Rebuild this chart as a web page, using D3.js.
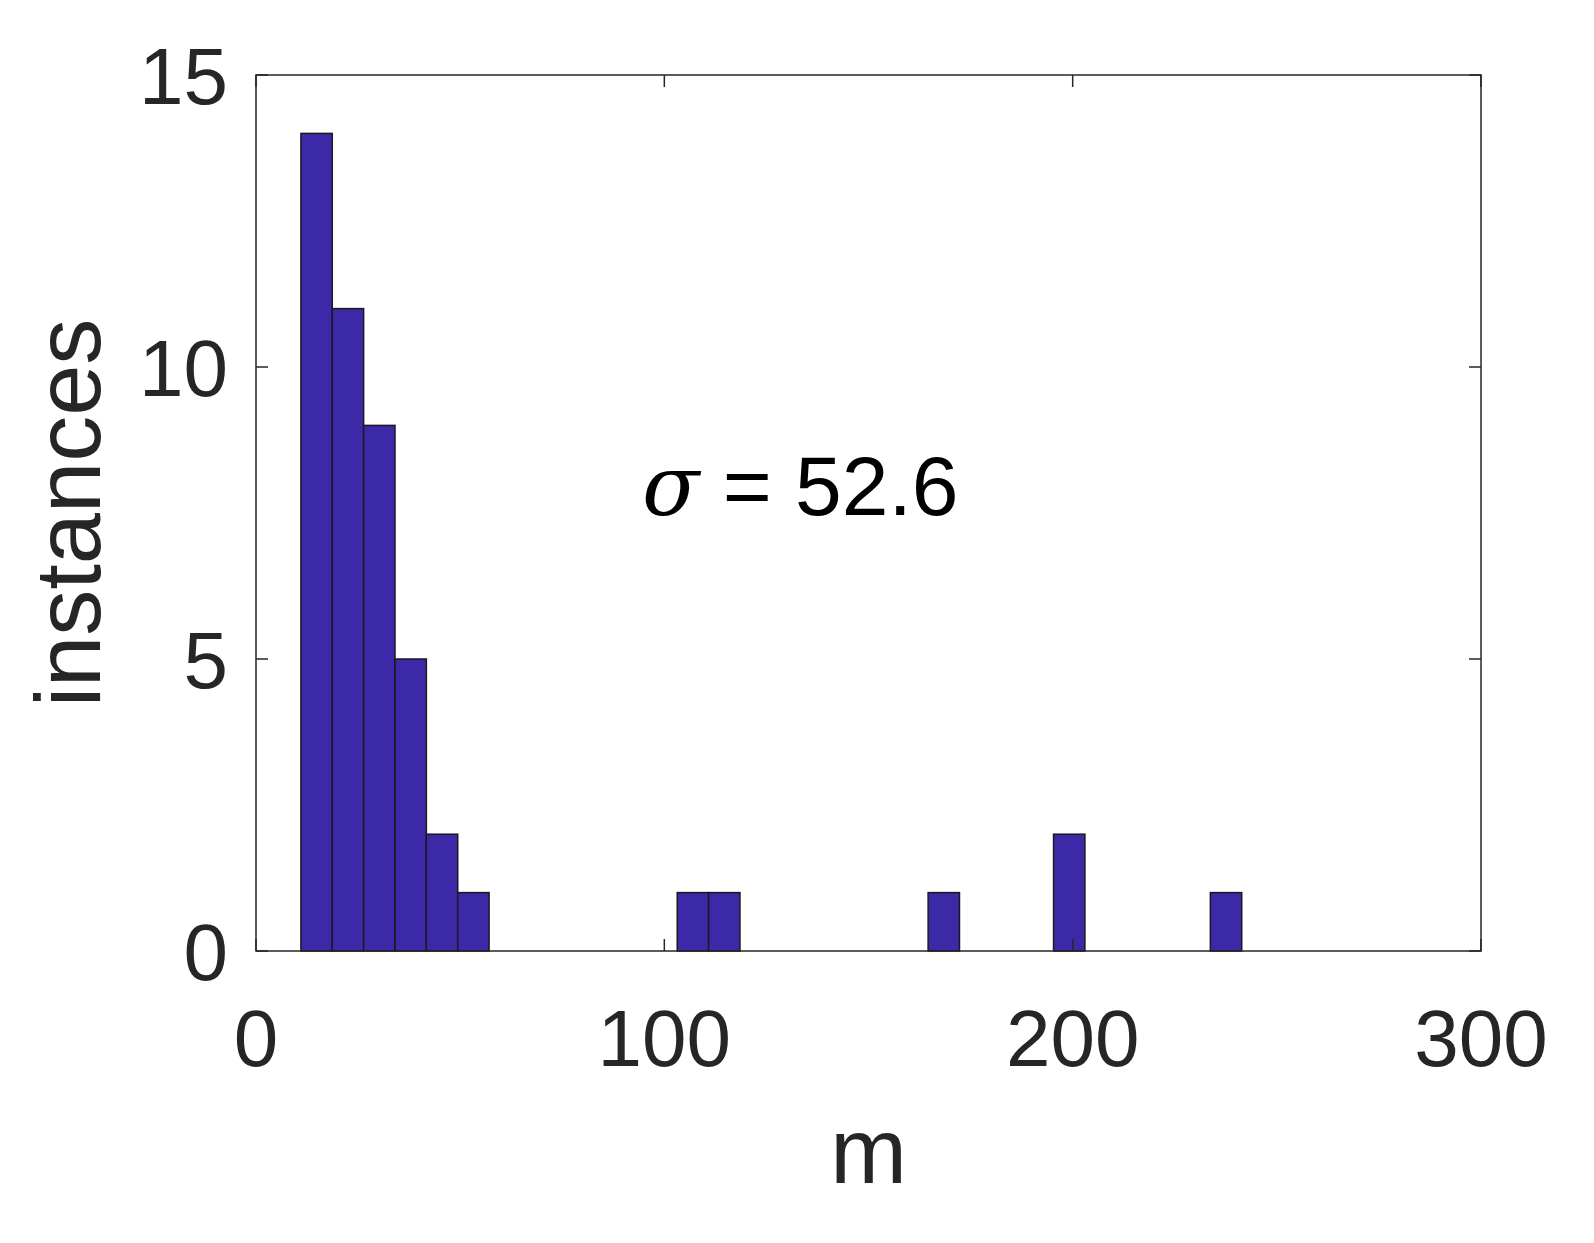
<!DOCTYPE html>
<html><head><meta charset="utf-8">
<script src="https://cdn.jsdelivr.net/npm/d3@7"></script>
<style>body{margin:0;background:#fff}</style></head>
<body><script>
const binStart = 11.0;
const binWidth = 7.68;
const binIndex = [0,1,2,3,4,5,12,13,20,24,29];
const counts   = [14,11,9,5,2,1,1,1,1,2,1];
const xTicks = [0,100,200,300];
const yTicks = [0,5,10,15];

const W=1594,H=1243, L=256,R=1481,T=75,B=951;
const svg=d3.select("body").append("svg").attr("width",W).attr("height",H);
const x=d3.scaleLinear().domain([0,300]).range([L,R]);
const y=d3.scaleLinear().domain([0,15]).range([B,T]);
const font="Arial, 'Liberation Sans', sans-serif";

svg.selectAll("rect.bar").data(binIndex).join("rect")
  .attr("x",(d)=>x(binStart+d*binWidth))
  .attr("width",(d)=>x(binStart+(d+1)*binWidth)-x(binStart+d*binWidth))
  .attr("y",(d,i)=>y(counts[i]))
  .attr("height",(d,i)=>y(0)-y(counts[i]))
  .attr("fill","#3c29a8").attr("stroke","#1a1a1a").attr("stroke-width",1.5);

const c="#262626";
svg.append("rect").attr("x",L).attr("y",T).attr("width",R-L).attr("height",B-T)
  .attr("fill","none").attr("stroke",c).attr("stroke-width",1.5);
const tl=12;
xTicks.forEach(t=>{
  svg.append("line").attr("x1",x(t)).attr("x2",x(t)).attr("y1",B).attr("y2",B-tl).attr("stroke",c).attr("stroke-width",1.5);
  svg.append("line").attr("x1",x(t)).attr("x2",x(t)).attr("y1",T).attr("y2",T+tl).attr("stroke",c).attr("stroke-width",1.5);
  svg.append("text").attr("x",x(t)).attr("y",B+115).attr("text-anchor","middle")
    .attr("font-family",font).attr("font-size",80).attr("fill",c).text(t);
});
yTicks.forEach(t=>{
  svg.append("line").attr("x1",L).attr("x2",L+tl).attr("y1",y(t)).attr("y2",y(t)).attr("stroke",c).attr("stroke-width",1.5);
  svg.append("line").attr("x1",R).attr("x2",R-tl).attr("y1",y(t)).attr("y2",y(t)).attr("stroke",c).attr("stroke-width",1.5);
  svg.append("text").attr("x",L-28).attr("y",y(t)+29).attr("text-anchor","end")
    .attr("font-family",font).attr("font-size",80).attr("fill",c).text(t);
});
svg.append("text").attr("x",(L+R)/2).attr("y",1183).attr("text-anchor","middle")
  .attr("font-family",font).attr("font-size",92).attr("fill",c).text("m");
svg.append("text").attr("transform",`translate(100,${(T+B)/2}) rotate(-90)`).attr("text-anchor","middle")
  .attr("font-family",font).attr("font-size",92).attr("fill",c).text("instances");
const ann=svg.append("text").attr("x",642).attr("y",515)
  .attr("font-family",font).attr("font-size",84).attr("fill","#000");
ann.append("tspan").attr("font-style","italic").attr("font-family","'DejaVu Serif', serif").text("σ");
ann.append("tspan").text(" = 52.6");
</script></body></html>
